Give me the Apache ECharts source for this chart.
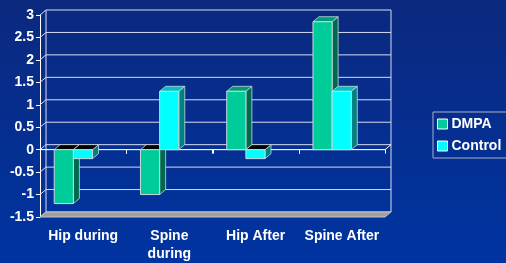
<!DOCTYPE html>
<html>
<head>
<meta charset="utf-8">
<script src="https://cdn.jsdelivr.net/npm/echarts@6/dist/echarts.min.js"></script>
<style>
  html, body { margin: 0; padding: 0; }
  #chart { width: 506px; height: 263px; }
</style>
</head>
<body>
<div id="chart"></div>
<script>
const categories = ["Hip during", "Spine\nduring", "Hip After", "Spine After"];
const dmpa = [-1.2, -1.0, 1.3, 2.85];
const control = [-0.2, 1.3, -0.2, 1.3];
const yTicks = [-1.5, -1, -0.5, 0, 0.5, 1, 1.5, 2, 2.5, 3];

const DX = 6, DY = -5;
const font = "Liberation Sans, Arial, sans-serif";

const colors = {
  DMPA: { front: "#00cc99", side: "#006a4e", top: "#009c78" },
  Control: { front: "#00ffff", side: "#008080", top: "#00c4c4" }
};

function renderWall(params, api) {
  const cs = params.coordSys;
  const v = api.value(0);
  const y = api.coord([0, v])[1];
  const x0 = cs.x, x1 = cs.x + cs.width;
  const line = "#d8dcf0";
  const children = [
    { type: "line", shape: { x1: x0, y1: y, x2: x0 + DX, y2: y + DY }, style: { stroke: line, lineWidth: 1 } },
    { type: "line", shape: { x1: x0 + DX, y1: y + DY, x2: x1 + DX, y2: y + DY }, style: { stroke: line, lineWidth: 1 } }
  ];
  if (params.dataIndex === 0) {
    const top = cs.y, bot = cs.y + cs.height;
    children.push(
      { type: "line", shape: { x1: x0 + DX, y1: top + DY, x2: x0 + DX, y2: bot + DY }, style: { stroke: line, lineWidth: 1 } },
      { type: "line", shape: { x1: x1 + DX, y1: top + DY, x2: x1 + DX, y2: bot + DY }, style: { stroke: line, lineWidth: 1 } },
      { type: "polygon", shape: { points: [[x0, bot], [x1, bot], [x1 + DX, bot + DY], [x0 + DX, bot + DY]] },
        style: { fill: "#a0a0a0", stroke: "#c0c0c0", lineWidth: 1 } }
    );
  }
  if (v === 0) {
    children.push(
      { type: "line", shape: { x1: x0, y1: y, x2: x1, y2: y }, style: { stroke: "#ffffff", lineWidth: 1 } },
      { type: "line", shape: { x1: x1, y1: y, x2: x1 + DX, y2: y + DY }, style: { stroke: "#ffffff", lineWidth: 1 } }
    );
    const bw = cs.width / categories.length;
    for (let i = 1; i < categories.length; i++) {
      const tx = Math.round(x0 + bw * i) + 0.5;
      children.push({ type: "line", shape: { x1: tx, y1: y, x2: tx, y2: y + 4 }, style: { stroke: "#ffffff", lineWidth: 1 } });
    }
  }
  return { type: "group", children: children };
}

function makeBarRenderer(si, c) {
  return function (params, api) {
    const idx = api.value(0);
    const v = api.value(1);
    const bw = api.size([1, 0])[0];
    const center = api.coord([idx, 0]);
    const barW = bw * 0.222;
    const left = center[0] - bw * 0.335 + si * barW;
    const y0 = center[1];
    const y1 = api.coord([idx, v])[1];
    const top = Math.min(y0, y1), bottom = Math.max(y0, y1);
    const right = left + barW;
    const edge = "#c8d8e0";
    return {
      type: "group",
      children: [
        { type: "polygon", shape: { points: [[right, top], [right + DX, top + DY], [right + DX, bottom + DY], [right, bottom]] },
          style: { fill: c.side, stroke: edge, lineWidth: 0.8 } },
        { type: "polygon", shape: { points: [[left, top], [left + DX, top + DY], [right + DX, top + DY], [right, top]] },
          style: { fill: v < 0 ? "#000000" : c.top, stroke: edge, lineWidth: 0.8 } },
        { type: "rect", shape: { x: left, y: top, width: barW, height: bottom - top },
          style: { fill: c.front, stroke: edge, lineWidth: 1 } }
      ]
    };
  };
}

const chart = echarts.init(document.getElementById("chart"), null, { renderer: "canvas" });

chart.setOption({
  animation: false,
  backgroundColor: {
    type: "linear", x: 0, y: 0, x2: 0, y2: 1,
    colorStops: [{ offset: 0, color: "#0b297e" }, { offset: 1, color: "#0034a2" }]
  },
  grid: { left: 40, right: 121, top: 15, bottom: 46 },
  legend: {
    orient: "vertical",
    left: 433, top: 112,
    padding: [5, 6, 5, 4],
    itemGap: 8,
    itemWidth: 10, itemHeight: 10,
    icon: "rect",
    borderColor: "#a8b0c8", borderWidth: 1,
    itemStyle: { borderColor: "#ffffff", borderWidth: 1 },
    textStyle: { color: "#ffffff", fontWeight: "bold", fontSize: 14, fontFamily: font, padding: [0, 0, 0, -1] },
    data: ["DMPA", "Control"]
  },
  xAxis: {
    type: "category",
    data: categories,
    axisLine: { show: true, lineStyle: { color: "#a0a0a0" } },
    axisTick: { show: true, length: 4, lineStyle: { color: "#ffffff" } },
    axisLabel: { interval: 0, color: "#ffffff", fontWeight: "bold", fontSize: 14, fontFamily: font, margin: 10, lineHeight: 18 },
    splitLine: { show: false }
  },
  yAxis: {
    type: "value",
    min: -1.5, max: 3, interval: 0.5,
    axisLine: { show: true, lineStyle: { color: "#ffffff" } },
    axisTick: { show: true, length: 4, lineStyle: { color: "#ffffff" } },
    axisLabel: { color: "#ffffff", fontWeight: "bold", fontSize: 14, fontFamily: font, margin: 6 },
    splitLine: { show: false }
  },
  series: [
    {
      type: "custom", name: "wall", silent: true, z: 1,
      renderItem: renderWall,
      data: yTicks.map(v => [v]),
      encode: { y: 0 }
    },
    {
      type: "custom", name: "DMPA", z: 2,
      itemStyle: { color: colors.DMPA.front },
      renderItem: makeBarRenderer(0, colors.DMPA),
      data: dmpa.map((v, i) => [i, v]),
      encode: { x: 0, y: 1 }
    },
    {
      type: "custom", name: "Control", z: 3,
      itemStyle: { color: colors.Control.front },
      renderItem: makeBarRenderer(1, colors.Control),
      data: control.map((v, i) => [i, v]),
      encode: { x: 0, y: 1 }
    }
  ]
});
</script>
</body>
</html>
